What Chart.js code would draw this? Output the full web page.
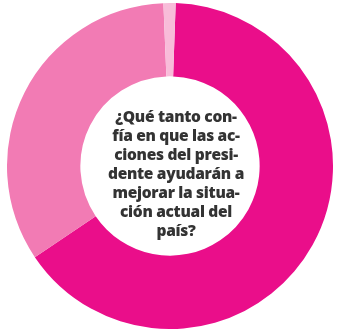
<!DOCTYPE html>
<html>
<head>
<meta charset="utf-8">
<script src="https://cdn.jsdelivr.net/npm/chart.js@4"></script>
<style>
  html, body { margin: 0; padding: 0; background: #fff; }
  #wrap { position: relative; width: 339px; height: 334px; overflow: hidden; }
  #box { position: absolute; left: 7px; top: 3px; width: 326px; height: 326px; }
  #center {
    position: absolute; left: 76px; top: 107px; width: 200px;
    text-align: center; font-family: "Open Sans", sans-serif; font-weight: 800;
    font-size: 15.5px; line-height: 19px; color: #333333; letter-spacing: -0.3px;
  }
</style>
</head>
<body>
<div id="wrap">
  <div id="box"><canvas id="myChart"></canvas></div>
  <div id="center">¿Qué tanto con-<br>fía en que las ac-<br>ciones del presi-<br>dente ayudarán a<br>mejorar la situa-<br>ción actual del<br>país?</div>
</div>
<script>
    const labels = ['Mucho / algo', 'Poco / nada', 'No sabe'];
    const values = [65, 33.8, 1.2];
    const colors = ['#EA0E8A', '#F27BB4', '#F8BCD9'];

    const ctx = document.getElementById('myChart').getContext('2d');
    new Chart(ctx, {
        type: 'doughnut',
        data: {
            labels: labels,
            datasets: [{
                data: values,
                backgroundColor: colors,
                borderWidth: 0
            }]
        },
        options: {
            responsive: true,
            maintainAspectRatio: false,
            animation: false,
            cutout: '55%',
            rotation: 2,
            layout: { padding: 0 },
            plugins: {
                legend: { display: false },
                tooltip: { enabled: false }
            }
        }
    });
</script>
</body>
</html>
